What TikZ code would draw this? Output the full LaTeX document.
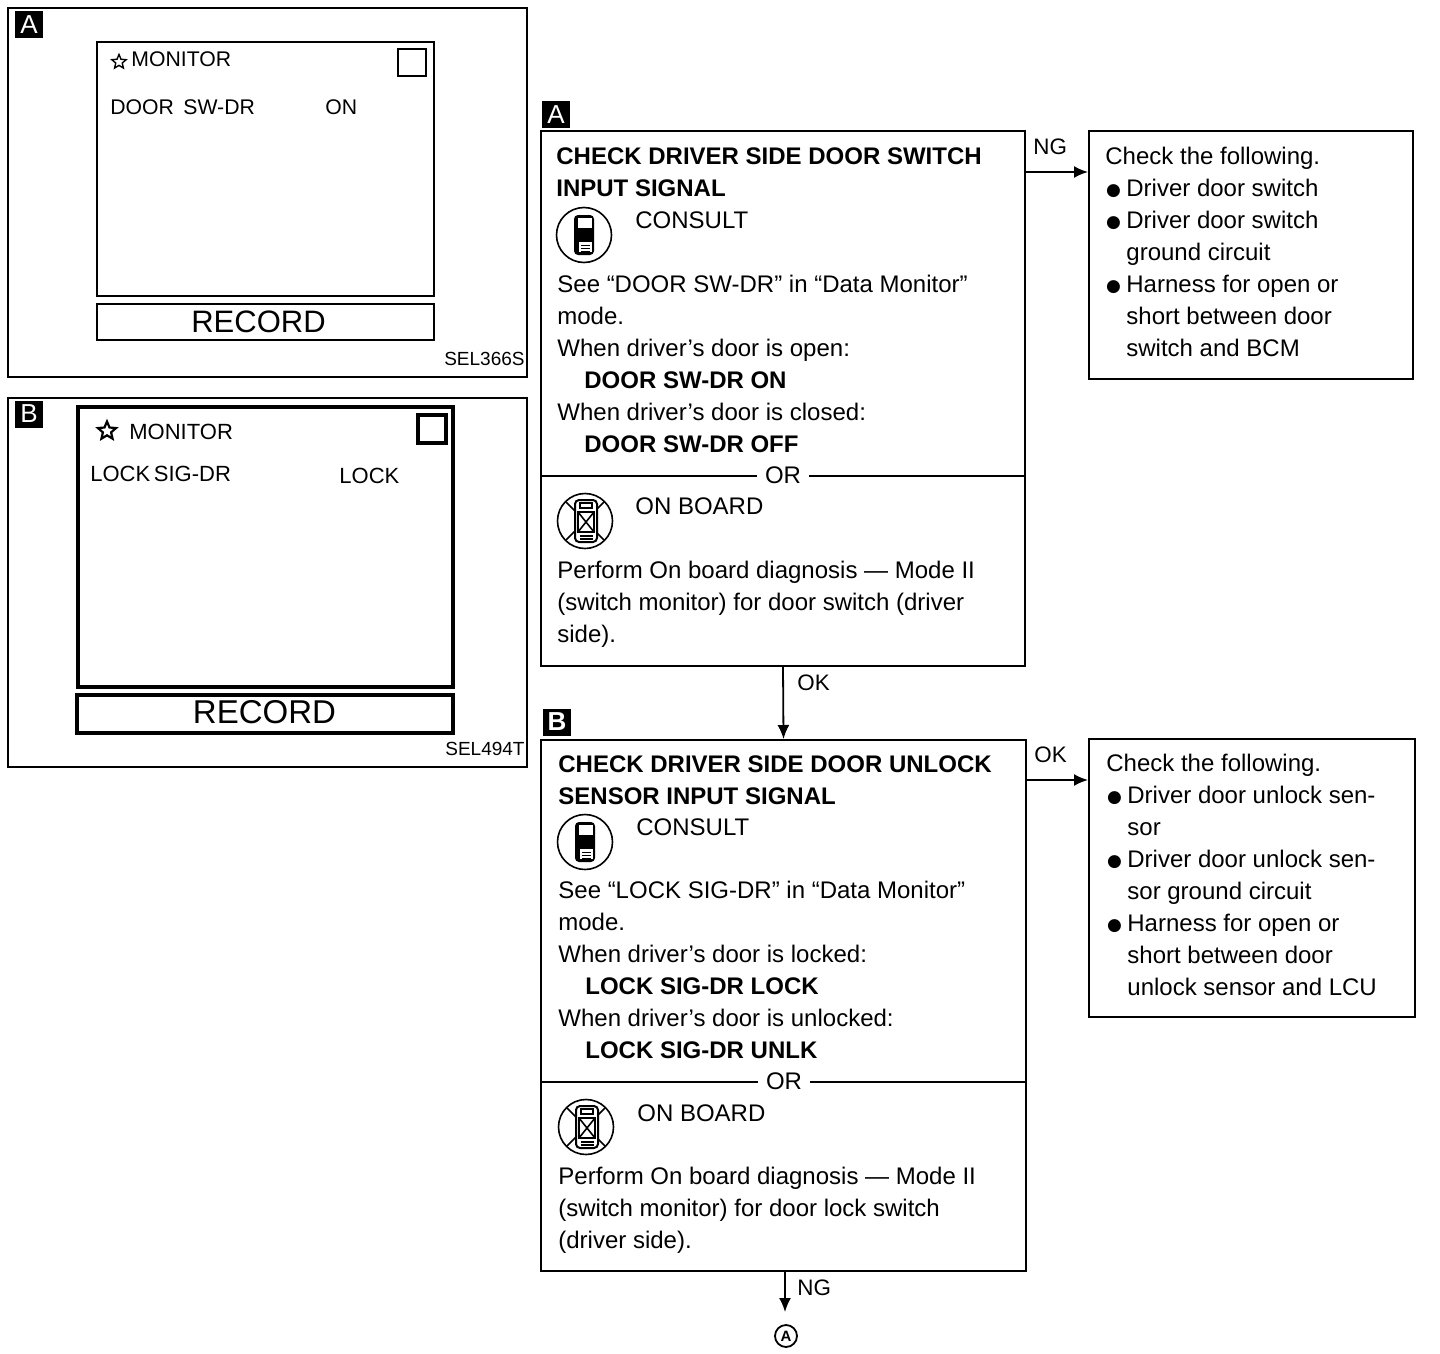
\documentclass[tikz,border=0pt]{standalone}
\usepackage{fontspec}
\setmainfont{Liberation Sans}
\newfontfamily\symfont{DejaVu Sans}
\usetikzlibrary{arrows.meta,shapes.geometric}
\newcommand{\BUL}{\makebox[10.5pt][l]{\hspace*{0.4pt}\raisebox{0.7pt}{\fontsize{8.5}{8.5}\selectfont\symfont ●}}}
\newcommand{\IND}{\hspace*{10.5pt}}
\tikzset{
BOX/.style={draw=black,line width=1pt,inner sep=0pt,fill=none},
PANEL/.style={draw=black,line width=0.8pt,inner sep=0pt},
SCREEN/.style={draw=black,line width=1pt,inner sep=0pt},
HEAVY/.style={draw=black,line width=1.6pt,inner sep=0pt},
TEXT/.style={inner sep=0pt,anchor=north west,align=left,font=\fontsize{12}{16}\selectfont},
LABEL/.style={inner sep=0pt,anchor=base west,font=\fontsize{11.2}{13}\selectfont},
BADGE/.style={fill=black,text=white,inner sep=0pt,minimum width=14pt,minimum height=13.5pt,font=\fontsize{13}{13}\selectfont},
STAR/.style={draw=black,star,star points=5,star point ratio=2.2,inner sep=0pt},
ARROW/.style={draw=black,line width=0.9pt,-{Latex[length=7pt,width=6pt]}},
CONSULTICON/.pic={
	\draw[line width=0.8pt] (0,0) circle (27.5);
	\fill[black,rounded corners=2pt] (-10,-20) rectangle (10,20);
	\fill[white] (-6,-17) rectangle (8,-7);
	\fill[white] (-5,7) rectangle (8,17);
	\draw[line width=0.5pt] (-3,10) -- (6,10) (-3,13) -- (6,13) (-3,16) -- (6,16);
},
ONBOARDICON/.pic={
	\draw[line width=0.8pt] (0,0) circle (27.5);
	\draw[line width=0.8pt] (-19,-19) -- (19,19) (19,-19) -- (-19,19);
	\filldraw[fill=white,draw=black,line width=1pt,rounded corners=2pt] (-10,-21) rectangle (12,21);
	\draw[line width=0.8pt] (-5,-18) rectangle (7,-13);
	\draw[line width=0.8pt] (-7,-9) rectangle (9,11) (-7,-9) -- (9,11) (9,-9) -- (-7,11);
	\draw[line width=0.6pt] (-5,15) -- (8,15) (-5,18) -- (8,18);
},
}
\begin{document}
\begin{tikzpicture}[x=0.5pt,y=-0.5pt]
	\useasboundingbox (0,0) rectangle (1440,1354);
	%Panel A
	\node[PANEL,minimum width=259.5pt,minimum height=184.5pt] (panelA) at (267.5,192.5) {};
	\node[BADGE] (badgeLA) at (29,25) {A};
	\node[SCREEN,minimum width=168.5pt,minimum height=127pt] (screenA) at (265.5,169) {};
	\node[SCREEN,minimum width=168.5pt,minimum height=18pt] (recordA) at (265.5,322) {};
	\node[SCREEN,minimum width=14pt,minimum height=13.5pt] (squareA) at (412,62.5) {};
	\node[STAR,line width=0.7pt,minimum size=7.5pt] (starA) at (119,62) {};
	\node[LABEL,font=\fontsize{10.6}{13}\selectfont] (monA) at (131,67) {MONITOR};
	\node[LABEL,font=\fontsize{10.6}{13}\selectfont] (doorA) at (110,115) {DOOR\, SW-DR};
	\node[LABEL,font=\fontsize{10.6}{13}\selectfont] (onA) at (325,115) {ON};
	\node[font=\fontsize{15.5}{18}\selectfont,inner sep=0pt] (recA) at (258.5,322) {RECORD};
	\node[inner sep=0pt,anchor=base east,font=\fontsize{9.5}{12}\selectfont] (selA) at (525,365) {SEL366S};
	%Panel B
	\node[PANEL,minimum width=259.5pt,minimum height=184.5pt] (panelB) at (267.5,582.5) {};
	\node[BADGE] (badgeLB) at (29,414) {B};
	\node[HEAVY,minimum width=187.5pt,minimum height=140pt] (screenB) at (265.5,547) {};
	\node[HEAVY,minimum width=188pt,minimum height=19pt] (recordB) at (265,714) {};
	\node[HEAVY,minimum width=14pt,minimum height=14pt] (squareB) at (432,429) {};
	\node[STAR,line width=1.1pt,minimum size=9.5pt] (starB) at (107,431) {};
	\node[LABEL,font=\fontsize{11}{13}\selectfont] (monB) at (129,439) {MONITOR};
	\node[LABEL,font=\fontsize{11}{13}\selectfont] (lockB) at (90,481) {LOCK\,SIG-DR};
	\node[LABEL,font=\fontsize{11}{13}\selectfont] (lockvB) at (339,483) {LOCK};
	\node[font=\fontsize{16.5}{18}\selectfont,inner sep=0pt] (recB) at (264.5,712) {RECORD};
	\node[inner sep=0pt,anchor=base east,font=\fontsize{9.5}{12}\selectfont] (selB) at (525,755) {SEL494T};
	%First check
	\node[BOX,minimum width=242pt,minimum height=267.5pt] (boxA) at (783,398.5) {};
	\node[BADGE] (badgeA) at (556,115) {A};
	\node[TEXT] (headA) at (556,142) {\strut\textbf{CHECK DRIVER SIDE DOOR SWITCH}\\\textbf{INPUT SIGNAL}};
	\pic at (584,235) {CONSULTICON};
	\node[TEXT] (consA) at (635,206) {\strut CONSULT};
	\node[TEXT] (bodyA) at (557,270) {\strut See “DOOR SW-DR” in “Data Monitor”\\
		mode.\\
		When driver’s door is open:\\
		\hspace*{13.5pt}\textbf{DOOR SW-DR ON}\\
		When driver’s door is closed:\\
		\hspace*{13.5pt}\textbf{DOOR SW-DR OFF}};
	\coordinate (lineAl) at (541,476);
	\coordinate (lineAr) at (1025,476);
	\draw[line width=1pt] (lineAl) -- (lineAr);
	\node[fill=white,inner xsep=4pt,inner ysep=1pt,font=\fontsize{12}{14}\selectfont] (orA) at (783,475) {OR};
	\pic at (585,521) {ONBOARDICON};
	\node[TEXT] (boardA) at (635,492) {\strut ON BOARD};
	\node[TEXT] (perfA) at (557,556) {\strut Perform On board diagnosis — Mode II\\
		(switch monitor) for door switch (driver\\
		side).};
	%First result
	\node[BOX,minimum width=162pt,minimum height=124pt] (ngA) at (1251,255) {};
	\node[TEXT] (ngtA) at (1105,142) {\strut Check the following.\\
		\BUL Driver door switch\\
		\BUL Driver door switch\\
		\IND ground circuit\\
		\BUL Harness for open or\\
		\IND short between door\\
		\IND switch and BCM};
	\coordinate (ngstartA) at (1025,172);
	\draw[ARROW] (ngstartA) -- (ngA.west |- ngstartA);
	\node[LABEL] (ngl) at (1033,155) {NG};
	%Second check
	\node[BOX,minimum width=242.5pt,minimum height=265.5pt] (boxB) at (783.5,1005.5) {};
	\node[BADGE] (badgeB) at (557,722) {\textbf{B}};
	\node[TEXT] (headB) at (558,750) {\strut\textbf{CHECK DRIVER SIDE DOOR UNLOCK}\\\textbf{SENSOR INPUT SIGNAL}};
	\pic at (585,842) {CONSULTICON};
	\node[TEXT] (consB) at (636,813) {\strut CONSULT};
	\node[TEXT] (bodyB) at (558,876) {\strut See “LOCK SIG-DR” in “Data Monitor”\\
		mode.\\
		When driver’s door is locked:\\
		\hspace*{13.5pt}\textbf{LOCK SIG-DR LOCK}\\
		When driver’s door is unlocked:\\
		\hspace*{13.5pt}\textbf{LOCK SIG-DR UNLK}};
	\coordinate (lineBl) at (541,1082);
	\coordinate (lineBr) at (1026,1082);
	\draw[line width=1pt] (lineBl) -- (lineBr);
	\node[fill=white,inner xsep=4pt,inner ysep=1pt,font=\fontsize{12}{14}\selectfont] (orB) at (784,1081) {OR};
	\pic at (586,1127) {ONBOARDICON};
	\node[TEXT] (boardB) at (637,1099) {\strut ON BOARD};
	\node[TEXT] (perfB) at (558,1162) {\strut Perform On board diagnosis — Mode II\\
		(switch monitor) for door lock switch\\
		(driver side).};
	%Second result
	\node[BOX,minimum width=163pt,minimum height=139pt] (ngB) at (1252,878) {};
	\node[TEXT] (ngtB) at (1106,749) {\strut Check the following.\\
		\BUL Driver door unlock sen-\\
		\IND sor\\
		\BUL Driver door unlock sen-\\
		\IND sor ground circuit\\
		\BUL Harness for open or\\
		\IND short between door\\
		\IND unlock sensor and LCU};
	\coordinate (okstartB) at (1026,780);
	\draw[ARROW] (okstartB) -- (ngB.west |- okstartB);
	\node[LABEL] (okl) at (1034,762) {OK};
	%Between and below
	\draw[ARROW] (boxA.south) -- (boxB.north);
	\node[LABEL] (okm) at (797,690) {OK};
	\node[draw=black,circle,line width=0.9pt,inner sep=0pt,minimum size=11pt,font=\fontsize{7.5}{8}\selectfont\bfseries] (endA) at (786,1336) {A};
	\coordinate (endtip) at (785,1312);
	\draw[ARROW] (boxB.south -| endtip) -- (endtip);
	\node[LABEL] (ngm) at (797,1295) {NG};
\end{tikzpicture}
\end{document}
